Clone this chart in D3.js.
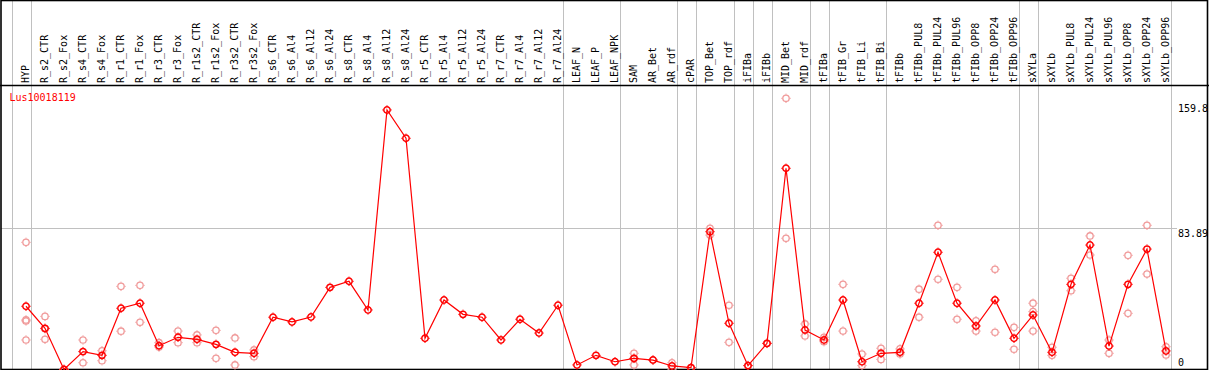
<!DOCTYPE html>
<html>
<head>
<meta charset="utf-8">
<script src="https://cdn.jsdelivr.net/npm/d3@7"></script>
<style>
  body { margin: 0; background: #fff; }
  svg { display: block; font-family: "DejaVu Sans Mono", monospace; }
</style>
</head>
<body>
<svg width="1209" height="370"></svg>
<script>
const geneName = "Lus10018119";

const samples = [
  "HYP", "R_s2_CTR", "R_s2_Fox", "R_s4_CTR", "R_s4_Fox", "R_r1_CTR", "R_r1_Fox",
  "R_r3_CTR", "R_r3_Fox", "R_r1s2_CTR", "R_r1s2_Fox", "R_r3s2_CTR", "R_r3s2_Fox",
  "R_s6_CTR", "R_s6_Al4", "R_s6_Al12", "R_s6_Al24", "R_s8_CTR", "R_s8_Al4",
  "R_s8_Al12", "R_s8_Al24", "R_r5_CTR", "R_r5_Al4", "R_r5_Al12", "R_r5_Al24",
  "R_r7_CTR", "R_r7_Al4", "R_r7_Al12", "R_r7_Al24", "LEAF_N", "LEAF_P", "LEAF_NPK",
  "SAM", "AR_Bet", "AR_rdf", "cPAR", "TOP_Bet", "TOP_rdf", "iFIBa", "iFIBb",
  "MID_Bet", "MID_rdf", "tFIBa", "tFIB_Gr", "tFIB_Li", "tFIB_Bi", "tFIBb",
  "tFIBb_PUL8", "tFIBb_PUL24", "tFIBb_PUL96", "tFIBb_OPP8", "tFIBb_OPP24", "tFIBb_OPP96",
  "sXYLa", "sXYLb", "sXYLb_PUL8", "sXYLb_PUL24", "sXYLb_PUL96", "sXYLb_OPP8",
  "sXYLb_OPP24", "sXYLb_OPP96"
];

// mean expression per sample
const means = [
  37.5, 24.4, 0, 10.6, 8.4, 36.3, 39.3, 14.1, 19.1, 17.9, 14.9, 10.2, 9.6,
  31.0, 28.2, 31.1, 48.7, 52.3, 35.3, 153.9, 137.1, 18.5, 41.2, 32.7, 31.0,
  17.5, 29.8, 21.6, 38.1, 2.7, 8.4, 4.6, 6.6, 5.6, 2.1, 1.1, 81.7, 27.4,
  2.3, 15.5, 119.3, 23.4, 17.5, 41.2, 4.6, 9.6, 10.2, 39.3, 69.5, 39.3,
  25.8, 41.2, 18.5, 32.3, 10.2, 50.5, 73.8, 13.9, 50.5, 71.4, 11.0
];

// replicate values per sample
const replicates = [
  [75.4, 29.4, 28.8, 17.5], [31.5, 24.2, 17.9], [0, 0], [17.5, 4.0], [11.1, 5.2],
  [49.3, 22.7], [49.9, 28.0], [15.9, 13.3], [22.8, 15.9], [20.5, 15.9],
  [23.2, 6.6], [18.7, 2.7], [11.6, 7.6],
  [], [], [], [], [], [], [], [], [], [], [], [], [], [], [], [], [], [], [],
  [9.6, 2.7, 6.6], [5.6], [4.0, 0.2], [1.1], [83.7, 79.7], [38.1, 16.1],
  [2.3], [15.5], [160.8, 77.8], [27.0, 19.9], [19.1, 16.5], [50.5, 22.8],
  [9.2, 2.3], [12.6, 6.0], [12.2, 9.2], [47.6, 31.0], [85.5, 53.5],
  [48.7, 29.8], [28.9, 22.8], [59.4, 22.1], [25.0, 12.0],
  [39.3, 34.3, 22.8], [13.2, 8.4], [54.1, 46.7], [79.2, 67.9], [17.5, 9.6],
  [67.7, 33.3], [85.5, 56.6], [13.5, 8.6]
];

// index of the last sample in each tissue group
const groupEnds = [-1, 0, 28, 31, 34, 35, 37, 38, 39, 41, 42, 45, 52, 53, 60];

const yTicks = [159.8, 83.89, 0];
const gridValues = [83.89];

const svg = d3.select("svg");
const W = 1209, H = 370;
const headerY = 85.5;

const x = d3.scalePoint().domain(samples).range([26, 26 + 19 * (samples.length - 1)]);
const step = x.step();
const xi = i => 26 + step * i;

const y = d3.scaleLinear().domain([0, 159.8]).range([369.5, 100]);

// group separators
svg.append("g")
  .selectAll("line")
  .data(groupEnds)
  .join("line")
    .attr("x1", d => Math.round(xi(d) + 4.5) + 0.5)
    .attr("x2", d => Math.round(xi(d) + 4.5) + 0.5)
    .attr("y1", 0)
    .attr("y2", H)
    .attr("stroke", "#c0c0c0")
    .attr("stroke-width", 1);

// horizontal grid
svg.append("g")
  .selectAll("line")
  .data(gridValues)
  .join("line")
    .attr("x1", 1)
    .attr("x2", 1177)
    .attr("y1", d => Math.round(y(d)) + 0.5)
    .attr("y2", d => Math.round(y(d)) + 0.5)
    .attr("stroke", "#c0c0c0")
    .attr("stroke-width", 1);

// frame
svg.append("rect")
  .attr("x", 1).attr("y", 0.5)
  .attr("width", 1206.5).attr("height", 369)
  .attr("fill", "none")
  .attr("stroke", "#000")
  .attr("stroke-width", 1.6);

svg.append("line")
  .attr("x1", 0).attr("x2", W)
  .attr("y1", headerY).attr("y2", headerY)
  .attr("stroke", "#000")
  .attr("stroke-width", 1.5);

// sample labels
svg.append("g")
  .selectAll("text")
  .data(samples)
  .join("text")
    .attr("transform", d => `translate(${x(d) + 3},83) rotate(-90)`)
    .attr("font-size", "10px")
    .attr("fill", "#000")
    .text(d => d);

// y labels
svg.append("g")
  .selectAll("text")
  .data(yTicks)
  .join("text")
    .attr("x", 1178)
    .attr("y", (d, i) => y(d) + [12, 9, -4][i])
    .attr("font-size", "10px")
    .attr("fill", "#000")
    .text(d => d);

svg.append("text")
  .attr("x", 9.5)
  .attr("y", 100.5)
  .attr("font-size", "10px")
  .attr("fill", "#ff0000")
  .text(geneName);

const marker = (g, color, w) => {
  g.append("circle")
    .attr("r", 3.2)
    .attr("fill", "none")
    .attr("stroke", color)
    .attr("stroke-width", w);
  g.append("path")
    .attr("d", "M0,-4.7V-3.7M0,3.7V4.7M-4.7,0H-3.7M3.7,0H4.7")
    .attr("stroke", color)
    .attr("stroke-width", 1);
};

// replicate points
const repData = [];
replicates.forEach((r, i) => r.forEach(v => repData.push({ s: samples[i], v })));

svg.append("g")
  .selectAll("g")
  .data(repData)
  .join("g")
    .attr("transform", d => `translate(${x(d.s)},${y(d.v)})`)
    .each(function () { marker(d3.select(this), "#f09a9a", 1.3); });

// mean line
const line = d3.line()
  .x((d, i) => x(samples[i]))
  .y(d => y(d));

svg.append("path")
  .datum(means)
  .attr("d", line)
  .attr("fill", "none")
  .attr("stroke", "#ff0000")
  .attr("stroke-width", 1.2);

svg.append("g")
  .selectAll("g")
  .data(means)
  .join("g")
    .attr("transform", (d, i) => `translate(${x(samples[i])},${y(d)})`)
    .each(function () { marker(d3.select(this), "#ff0000", 1.5); });
</script>
</body>
</html>
